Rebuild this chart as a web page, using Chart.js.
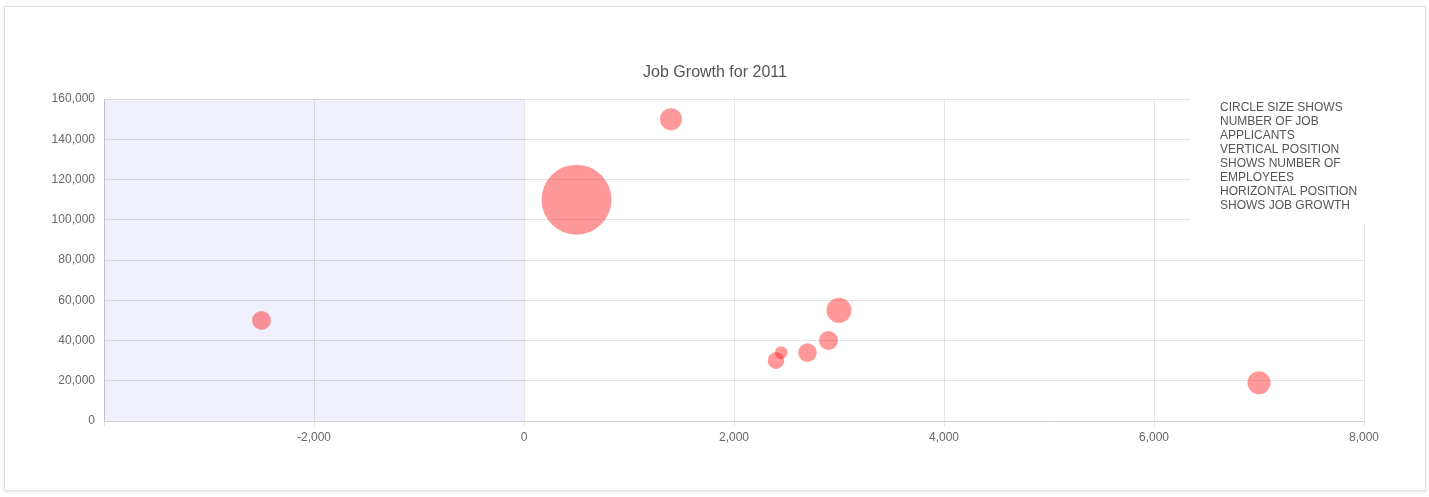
<!DOCTYPE html>
<html>
<head>
<meta charset="utf-8">
<script src="https://cdn.jsdelivr.net/npm/chart.js@4"></script>
<style>
    body { margin: 0; background: #fff; }
    #card {
        position: absolute; left: 4px; top: 6px;
        width: 1422px; height: 485px; box-sizing: border-box;
        border: 1px solid #e2e2e2;
        box-shadow: 0 1px 3px rgba(0, 0, 0, 0.12);
        background: #fff;
    }
    #wrap { position: relative; width: 1420px; height: 483px; }
</style>
</head>
<body>
<div id="card"><div id="wrap"><canvas id="growthChartCanvas"></canvas></div></div>
<script>
// job growth (x), employees (y), circle radius (applicants)
let growth = [-2500, 500, 1400, 3000, 2900, 2700, 2450, 2400, 7000];
let employees = [50000, 110000, 150000, 55000, 40000, 34000, 34000, 30000, 19000];
let applicants = [9.5, 35, 11, 12.5, 9.5, 9.3, 6.3, 8.3, 11.5];

let xTicks = [-2000, 0, 2000, 4000, 6000, 8000];
let chartTitle = 'Job Growth for 2011';
let legendLines = [
    'CIRCLE SIZE SHOWS', 'NUMBER OF JOB', 'APPLICANTS',
    'VERTICAL POSITION', 'SHOWS NUMBER OF', 'EMPLOYEES',
    'HORIZONTAL POSITION', 'SHOWS JOB GROWTH'
];

const bubbleData = growth.map((g, i) => ({ x: g, y: employees[i], r: applicants[i] }));

// shade the negative growth side
const shadePlugin = {
    id: 'shade',
    beforeDraw(chart) {
        const ctx = chart.ctx;
        const area = chart.chartArea;
        const x0 = chart.scales.x.getPixelForValue(0);
        ctx.save();
        ctx.fillStyle = '#f0f0fd';
        ctx.fillRect(area.left, area.top, x0 - area.left, area.bottom - area.top);
        ctx.restore();
    }
};

// title centred on the whole canvas, plus the note in the top right corner
const notePlugin = {
    id: 'note',
    afterDraw(chart) {
        const ctx = chart.ctx;
        const area = chart.chartArea;
        ctx.save();
        ctx.fillStyle = '#555';
        ctx.font = '16px "Liberation Sans", Arial, sans-serif';
        ctx.textAlign = 'center';
        ctx.textBaseline = 'middle';
        ctx.fillText(chartTitle, chart.width / 2, area.top - 26);

        ctx.fillStyle = '#fff';
        ctx.fillRect(area.right - 174, area.top - 1, 177, 126);
        ctx.fillStyle = '#555';
        ctx.font = '12px "Liberation Sans", Arial, sans-serif';
        ctx.textAlign = 'left';
        ctx.textBaseline = 'alphabetic';
        legendLines.forEach((line, i) => {
            ctx.fillText(line, area.right - 144, area.top + 11.5 + i * 14);
        });
        ctx.restore();
    }
};

const growthChartConfig = {
    type: 'bubble',
    data: {
        datasets: [{
            label: 'Job Growth',
            data: bubbleData,
            backgroundColor: 'rgba(255, 0, 0, 0.4)',
            borderWidth: 0,
            hoverBorderWidth: 0
        }]
    },
    options: {
        responsive: true,
        maintainAspectRatio: false,
        animation: false,
        layout: { padding: { left: 40, right: 61, top: 92, bottom: 0 } },
        scales: {
            x: {
                type: 'linear',
                min: -4000,
                max: 8000,
                afterBuildTicks(scale) {
                    scale.ticks = [-4000].concat(xTicks).map(v => ({ value: v }));
                },
                afterFit(scale) { scale.height = 69; },
                grid: { color: 'rgba(0,0,0,0.1)', tickLength: 5 },
                border: { color: 'rgba(0,0,0,0.1)' },
                ticks: {
                    color: '#666',
                    padding: 4,
                    maxRotation: 0,
                    font: { family: '"Liberation Sans", Arial, sans-serif', size: 12 },
                    callback: v => v === -4000 ? '' : v.toLocaleString('en-US')
                }
            },
            y: {
                min: 0,
                max: 160000,
                afterFit(scale) { scale.width = 59; },
                grid: { color: 'rgba(0,0,0,0.1)', drawTicks: false },
                border: { color: 'rgba(0,0,0,0.1)' },
                ticks: {
                    stepSize: 20000,
                    color: '#666',
                    padding: 9,
                    font: { family: '"Liberation Sans", Arial, sans-serif', size: 12 },
                    callback: v => v.toLocaleString('en-US')
                }
            }
        },
        plugins: {
            legend: { display: false },
            tooltip: { enabled: false },
            title: { display: false }
        }
    },
    plugins: [shadePlugin, notePlugin]
};

const growthChart = new Chart(document.getElementById('growthChartCanvas').getContext('2d'), growthChartConfig);
</script>
</body>
</html>
